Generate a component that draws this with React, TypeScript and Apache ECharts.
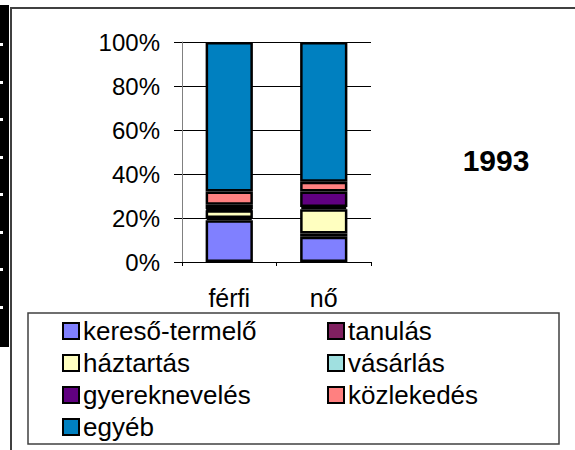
import React, { useEffect, useRef } from "react";
import * as echarts from "echarts";

const categories = ["férfi", "nő"];
const seriesNames = [
  "kereső-termelő",
  "tanulás",
  "háztartás",
  "vásárlás",
  "gyereknevelés",
  "közlekedés",
  "egyéb",
];
const keresoTermelo = [19, 11.5];
const tanulas = [1, 1.5];
const haztartas = [3.5, 11];
const vasarlas = [0.5, 1];
const gyereknevelés = [2, 7];
const kozlekedes = [6, 4.5];
const egyeb = [68, 63.5];
const seriesValues = [keresoTermelo, tanulas, haztartas, vasarlas, gyereknevelés, kozlekedes, egyeb];
const colors = ["#8080FF", "#802060", "#FFFFC0", "#A0E0E0", "#600080", "#FF8080", "#0080C0"];
const yTicks = [0, 20, 40, 60, 80, 100];
const titleText = "1993";

const FONT = "'Liberation Sans', Arial, sans-serif";

export default function App() {
  const ref = useRef<HTMLDivElement>(null);
  useEffect(() => {
    if (!ref.current) return;
    const chart = echarts.init(ref.current, null, { renderer: "svg" });

    const notches = [43, 81, 118, 156, 193, 231, 268, 306].map((y) => ({
      type: "rect",
      shape: { x: 0, y, width: 3, height: 3 },
      style: { fill: "#ffffff" },
      z: 101,
    }));

    const legendCommon = {
      orient: "vertical",
      top: 318,
      padding: 0,
      icon: "rect",
      itemWidth: 16,
      itemHeight: 16,
      itemGap: 6,
      selectedMode: false,
      itemStyle: { borderColor: "#000", borderWidth: 2 },
      textStyle: { color: "#000", fontSize: 26, lineHeight: 26, fontFamily: FONT, padding: [0, 0, 0, -1] },
    };

    chart.setOption({
      animation: false,
      backgroundColor: "#ffffff",
      textStyle: { fontFamily: FONT },
      grid: { left: 182, right: 204, top: 42, bottom: 188, containLabel: false },
      xAxis: {
        type: "category",
        data: categories,
        axisLine: { show: true, lineStyle: { color: "#000", width: 1 } },
        axisTick: { show: true, length: 4, lineStyle: { color: "#000" } },
        axisLabel: { color: "#000", fontSize: 25, fontFamily: FONT, margin: 23 },
      },
      yAxis: {
        type: "value",
        min: yTicks[0],
        max: yTicks[yTicks.length - 1],
        interval: 20,
        axisLine: { show: true, lineStyle: { color: "#808080", width: 1 } },
        axisTick: { show: true, length: 8, lineStyle: { color: "#000" } },
        axisLabel: {
          color: "#000",
          fontSize: 24,
          fontFamily: FONT,
          margin: 22,
          formatter: "{value}%",
        },
        splitLine: { show: true, lineStyle: { color: "#000", width: 1 } },
      },
      legend: [
        {
          ...legendCommon,
          data: [seriesNames[0], seriesNames[2], seriesNames[4], seriesNames[6]],
          left: 62,
        },
        {
          ...legendCommon,
          data: [seriesNames[1], seriesNames[3], seriesNames[5]],
          left: 327,
        },
      ],
      series: seriesNames.map((name, i) => ({
        name,
        type: "bar",
        stack: "total",
        data: seriesValues[i],
        barWidth: "50%",
        itemStyle: { color: colors[i], borderColor: "#000", borderWidth: 2.5 },
      })),
      graphic: [
        {
          type: "polyline",
          shape: { points: [[11, 450], [11, 8], [575, 8]] },
          style: { stroke: "#404040", lineWidth: 2, fill: null },
          z: 100,
        },
        {
          type: "rect",
          shape: { x: 28, y: 313, width: 531, height: 131 },
          style: { stroke: "#404040", lineWidth: 1.5, fill: null },
          z: 100,
        },
        {
          type: "rect",
          shape: { x: 0, y: 5, width: 9, height: 342 },
          style: { fill: "#000" },
          z: 100,
        },
        ...notches,
        {
          type: "text",
          x: 496,
          y: 160,
          style: {
            text: titleText,
            fill: "#000",
            font: `bold 30px ${FONT}`,
            textAlign: "center",
            textVerticalAlign: "middle",
          },
          z: 100,
        },
      ],
    });
    return () => chart.dispose();
  }, []);
  return (
    <div
      ref={ref}
      style={{ position: "fixed", left: 0, top: 0, width: 575, height: 450 }}
    />
  );
}
